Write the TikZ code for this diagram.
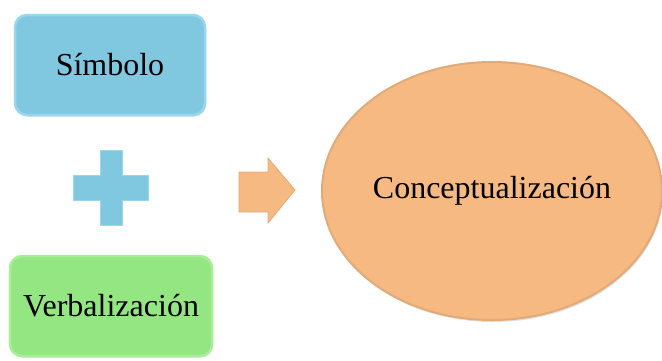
\documentclass[tikz,border=0pt]{standalone}
\usepackage{fontspec}
\setmainfont{Liberation Serif}
\newfontfamily\tnr{Liberation Serif}
\usetikzlibrary{shapes.geometric,shadows}
\definecolor{boxblue}{RGB}{128,200,224}
\definecolor{boxblueedge}{RGB}{150,215,238}
\definecolor{boxgreen}{RGB}{148,230,130}
\definecolor{boxgreenedge}{RGB}{165,240,150}
\definecolor{boxorange}{RGB}{246,185,130}
\definecolor{boxorangeedge}{RGB}{225,170,120}
\tikzset{
  card/.style={rounded corners=12pt, minimum width=190pt, minimum height=100pt,
    line width=2.5pt, font=\tnr\fontsize{32}{38}\selectfont, inner sep=0pt,
    drop shadow={shadow xshift=1pt, shadow yshift=-1.5pt, opacity=0.3}},
  oval/.style={ellipse, minimum width=340pt, minimum height=258pt, line width=2pt,
    font=\tnr\fontsize{32}{38}\selectfont, inner sep=0pt,
    drop shadow={shadow xshift=1pt, shadow yshift=-2pt, opacity=0.25}},
}
\begin{document}
\begin{tikzpicture}[x=1pt,y=-1pt]
\useasboundingbox (0,0) rectangle (662,360);
\node[card, fill=boxblue, draw=boxblueedge] (sim) at (110,65) {Símbolo};
\node[card, fill=boxgreen, draw=boxgreenedge, minimum width=202pt] (ver) at (111,306) {Verbalización};
\node[oval, fill=boxorange, draw=boxorangeedge] (con) at (492,191) {Conceptualización};
% plus sign
\coordinate (plus) at (110,187);
\fill[boxblue, draw=boxblueedge, line width=0.8pt]
  (100,150) -- (122,150) -- (122,175) -- (148,175) -- (148,200) -- (122,200)
  -- (122,225) -- (100,225) -- (100,200) -- (73,200) -- (73,175) -- (100,175) -- cycle;
% arrow
\coordinate (arr) at (265,190);
\fill[boxorange, draw=boxorangeedge, line width=0.8pt]
  (239,172) -- (268,172) -- (268,158) -- (295,190) -- (268,223) -- (268,212)
  -- (239,212) -- cycle;
\end{tikzpicture}
\end{document}
